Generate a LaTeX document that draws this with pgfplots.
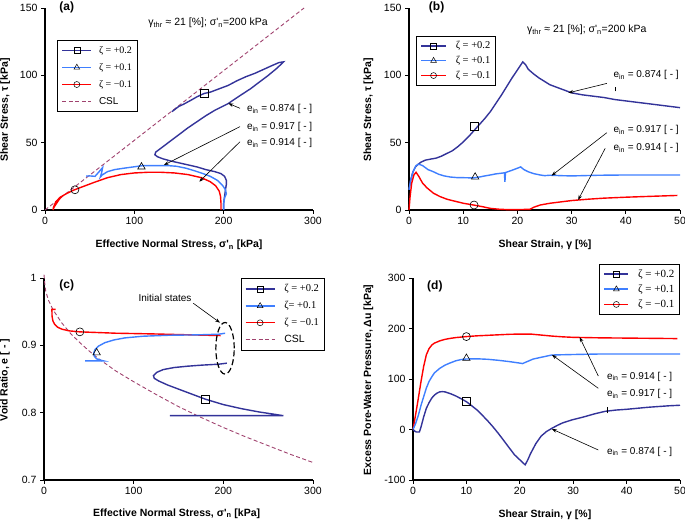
\documentclass[border=0pt]{standalone}
\usepackage{fontspec}
\setmainfont{Liberation Sans}
\newfontfamily\tnr{Liberation Serif}
\usepackage{pgfplots}
\pgfplotsset{compat=1.18}
\usetikzlibrary{arrows.meta}

\definecolor{dblue}{HTML}{333399}
\definecolor{lblue}{HTML}{3F7FFF}
\definecolor{cred}{HTML}{FF0000}
\definecolor{csl}{HTML}{A0426E}

\pgfplotsset{
  panel/.style={
    scale only axis, anchor=south west, clip=false,
    axis x line*=bottom, axis y line*=left,
    axis line style={line width=1.1pt,-},
    tick align=outside, major tick length=4pt,
    tick style={line width=0.9pt, black},
    tick label style={font=\fontsize{10.5}{12}\selectfont},
    label style={font=\bfseries\fontsize{10.5}{12}\selectfont},
    /pgf/number format/assume math mode=true,
    legend cell align=left,
  },
  curve/.style={line width=1.4pt, forget plot},
  mk/.style={only marks, black, line width=0.6pt, mark size=4pt, forget plot, mark options={solid}},
}
\tikzset{
  arr/.style={-{Stealth[length=5pt,width=3.5pt]}, line width=0.6pt, black},
  note/.style={font=\fontsize{10}{12}\selectfont, anchor=west, inner sep=0pt},
  plab/.style={font=\bfseries\fontsize{12}{14}\selectfont},
}
\newcommand{\ein}{e\textsubscript{in}}

\begin{document}
\begin{tikzpicture}
\useasboundingbox (0,0) rectangle (685pt,521pt);

% ---------------- (a) ----------------
\begin{axis}[panel, at={(45pt,311pt)}, width=268pt, height=202pt,
  xmin=0, xmax=300, ymin=0, ymax=150,
  xtick={0,100,200,300}, ytick={0,50,100,150},
  xlabel={Effective Normal Stress, σ\textquotesingle\textsubscript{n} [kPa]},
  ylabel={Shear Stress, τ [kPa]},
  xlabel style={at={(axis description cs:0.5,-0.173)}, anchor=center},
  ylabel style={at={(axis description cs:-0.149,0.495)}, anchor=center},
  legend image code/.code={\draw[mark repeat=2,mark phase=2,#1] plot coordinates {(0pt,0pt) (14.5pt,0pt) (29pt,0pt)};},
  legend style={at={(axis description cs:0.046,0.842)}, anchor=north west,
    draw=black, line width=0.6pt, font=\fontsize{10}{12}\selectfont,
    inner xsep=4pt, inner ysep=5pt, row sep=6.5pt, column sep=6pt,
    nodes={inner sep=1pt}},
]
\addlegendimage{dblue, line width=1.4pt, mark=square, mark options={solid, black, line width=0.5pt, mark size=3pt}}
\addlegendentry{{\tnr ζ = +0.2}}
\addlegendimage{lblue, line width=1.4pt, mark=triangle, mark options={solid, black, line width=0.5pt, mark size=3.3pt}}
\addlegendentry{{\tnr ζ = +0.1}}
\addlegendimage{cred, line width=1.4pt, mark=o, mark options={solid, black, line width=0.5pt, mark size=3pt}}
\addlegendentry{{\tnr ζ = −0.1}}
\addlegendimage{csl, line width=0.9pt, dash pattern=on 4pt off 2.5pt}
\addlegendentry{CSL}

\addplot[csl, line width=0.9pt, dash pattern=on 4pt off 2.5pt, forget plot] coordinates {(0,0) (290,150)};

\addplot[curve, dblue] coordinates {
(200,0) (200,5) (201,10) (202,15) (203,19) (203,22) (201,25) (197,27) (190,28.5) (180,30) (170,32) (160,33.5) (150,35) (140,36.5) (132,38) (126,39.5) (123,41) (124,43) (130,46) (140,51) (150,56) (160,61) (170,65.5) (180,70) (190,74) (205,79) (215,83.5) (230,90) (240,95) (250,100) (260,105.5) (267,110) (262,109.5) (255,107.5) (245,104.5) (235,101.5) (225,99) (215,96) (205,92.5) (195,90) (185,87.5) (178,86.5) (170,84) (162,81) (155,78.5) (150,77) (146,75) (142,73)
};
\addplot[curve, lblue] coordinates {
(200,0) (200,5) (201,9) (203,12) (202,15) (199,18) (193,22) (185,25) (177,27) (168,29) (158,31) (147,32.5) (136,33) (122,33) (110,33) (99,32) (88,31) (78,30) (70,28.5) (64,26) (62,24.5) (63.5,28) (64.5,31.5) (60,28) (56,25) (50,25.3) (46,25.2)
};
\addplot[curve, cred] coordinates {
(197,0) (197,5) (196.5,10) (195,14) (191,18) (185,21) (175,24) (160,26.3) (145,27.5) (130,28) (115,28) (100,27.5) (85,26.3) (70,24) (55,20.5) (45,18) (33,15) (25,12.5) (17,9.5) (12,6) (9.5,2) (9,0) (10,2) (13,5) (16,8) (19,10)
};
\addplot[mk, mark=square] coordinates {(178,87)};
\addplot[mk, mark=triangle, mark size=4.3pt] coordinates {(108,32)};
\addplot[mk, mark=o] coordinates {(33.5,15)};

\node[plab] at (axis cs:24.3,150.5) {(a)};
\node[font=\fontsize{10.5}{12}\selectfont] at (axis cs:182.5,138.9) {γ\textsubscript{thr} ≈ 21 [\%]; σ\textquotesingle\textsubscript{n}=200 kPa};
\node[note] at (axis cs:226,75) {\ein\ = 0.874 [ - ]};
\node[note] at (axis cs:226,61.6) {\ein\ = 0.917 [ - ]};
\node[note] at (axis cs:226,49.8) {\ein\ = 0.914 [ - ]};
\draw[arr] (axis cs:218.3,75.5) -- (axis cs:205.2,79.2);
\draw[arr] (axis cs:218.3,61.9) -- (axis cs:133.2,33.4);
\draw[arr] (axis cs:218.3,50.7) -- (axis cs:172.7,21);
\end{axis}

% ---------------- (b) ----------------
\begin{axis}[panel, at={(409pt,311pt)}, width=271pt, height=202pt,
  xmin=0, xmax=50, ymin=0, ymax=150,
  xtick={0,10,20,30,40,50}, ytick={0,50,100,150},
  xlabel={Shear Strain, γ [\%]},
  ylabel={Shear Stress, τ [kPa]},
  xlabel style={at={(axis description cs:0.502,-0.173)}, anchor=center},
  ylabel style={at={(axis description cs:-0.150,0.495)}, anchor=center},
  legend image code/.code={\draw[mark repeat=2,mark phase=2,#1] plot coordinates {(0pt,0pt) (12.5pt,0pt) (25pt,0pt)};},
  legend style={at={(axis description cs:0.026,0.861)}, anchor=north west,
    draw=black, line width=0.6pt, font=\fontsize{10.5}{12}\selectfont,
    inner xsep=4pt, inner ysep=4pt, row sep=4pt, column sep=8pt,
    nodes={inner sep=1pt}},
]
\addlegendimage{dblue, line width=1.4pt, mark=square, mark options={solid, black, line width=0.5pt, mark size=3pt}}
\addlegendentry{{\tnr ζ = +0.2}}
\addlegendimage{lblue, line width=1.4pt, mark=triangle, mark options={solid, black, line width=0.5pt, mark size=3.3pt}}
\addlegendentry{{\tnr ζ = +0.1}}
\addlegendimage{cred, line width=1.4pt, mark=o, mark options={solid, black, line width=0.5pt, mark size=3pt}}
\addlegendentry{{\tnr ζ = −0.1}}

\addplot[curve, dblue] coordinates {
(0,15) (0.3,22) (0.7,28) (1.2,32) (1.7,34) (2.2,35.5) (3,37) (4,37.8) (5,38.5) (6,40) (7,42) (8,44) (9,47) (10,50.5) (11,54.5) (12,59) (13,63.5) (14,68) (15,73) (16,79) (17,85) (18,91.5) (19,98) (20,104) (21,110) (21.5,108) (22,104.5) (23,101) (24,98) (25,95.5) (26,93) (27,91.5) (28,90) (29,88.5) (30,87) (32,85.5) (34,84.5) (36,83.5) (38,82) (40,81) (42,80) (44,79) (46,78) (48,77) (50,76)
};
\addplot[curve, lblue] coordinates {
(0,15) (0.3,22) (0.8,29) (1.3,33) (1.8,34) (2.5,33) (3.5,30) (4.5,28.4) (5.5,26.5) (6.5,25.3) (7.6,24.5) (9,24) (10,24) (11.9,23.8) (13,24.5) (14,25.3) (15,26) (16,26.8) (17,27.3) (17.6,27.6) (17.7,21) (17.8,27.8) (19,29.5) (20,31) (20.6,32) (21.2,30) (22,28.4) (23,27) (24.2,26) (25,25.5) (26,25.8) (28,25.5) (30,25.3) (35,25.8) (40,26) (45,26) (50,26)
};
\addplot[curve, cred] coordinates {
(0,0) (0.2,10) (0.5,20) (0.9,26) (1.3,28) (1.8,25) (2.5,20) (3.3,16.5) (4.5,12.5) (5.7,10) (7,8) (8.8,6.2) (10,5) (11.9,3.7) (13.5,2.5) (15,1.2) (16.5,0.6) (18,0.3) (20,0.3) (22.3,0.5) (23,2) (24.2,3.7) (26,5) (28,6) (30,7) (33,8) (36,8.8) (40,9.5) (45,10.2) (49.5,10.8)
};
\addplot[mk, mark=square] coordinates {(12,62)};
\addplot[mk, mark=triangle, mark size=4.3pt] coordinates {(12.2,24.5)};
\addplot[mk, mark=o] coordinates {(12,3.7)};

\node[plab] at (axis cs:5.1,150.5) {(b)};
\node[font=\fontsize{10.5}{12}\selectfont] at (axis cs:32.8,133.6) {γ\textsubscript{thr} ≈ 21 [\%]; σ\textquotesingle\textsubscript{n}=200 kPa};
\node[note] at (axis cs:37.7,100.2) {\ein\ = 0.874 [ - ]};
\node[note] at (axis cs:37.7,59.4) {\ein\ = 0.917 [ - ]};
\node[note] at (axis cs:37.7,45.8) {\ein\ = 0.914 [ - ]};
\draw[arr] (axis cs:36.5,94) -- (axis cs:29.4,87);
\draw[arr] (axis cs:36.5,57.4) -- (axis cs:26.3,25.5);
\draw[arr] (axis cs:36.2,45.8) -- (axis cs:31.2,7.4);
\draw[line width=0.6pt] (axis cs:38,88) -- (axis cs:38,91.5);
\end{axis}

% ---------------- (c) ----------------
\begin{axis}[panel, at={(44pt,41pt)}, width=269pt, height=202pt,
  xmin=0, xmax=300, ymin=0.7, ymax=1,
  xtick={0,100,200,300}, ytick={0.7,0.8,0.9,1},
  xlabel={Effective Normal Stress, σ\textquotesingle\textsubscript{n} [kPa]},
  ylabel={Void Ratio, e [ - ]},
  xlabel style={at={(axis description cs:0.493,-0.165)}, anchor=center},
  ylabel style={at={(axis description cs:-0.145,0.495)}, anchor=center},
  legend image code/.code={\draw[mark repeat=2,mark phase=2,#1] plot coordinates {(0pt,0pt) (14.5pt,0pt) (29pt,0pt)};},
  legend style={at={(axis description cs:0.731,0.9985)}, anchor=north west,
    draw=black, line width=0.6pt, font=\fontsize{10.5}{12}\selectfont,
    inner xsep=4pt, inner ysep=5pt, row sep=6pt, column sep=8pt,
    nodes={inner sep=1pt}},
]
\addlegendimage{dblue, line width=1.4pt, mark=square, mark options={solid, black, line width=0.5pt, mark size=3pt}}
\addlegendentry{{\tnr ζ = +0.2}}
\addlegendimage{lblue, line width=1.4pt, mark=triangle, mark options={solid, black, line width=0.5pt, mark size=3.3pt}}
\addlegendentry{{\tnr ζ= +0.1}}
\addlegendimage{cred, line width=1.4pt, mark=o, mark options={solid, black, line width=0.5pt, mark size=3pt}}
\addlegendentry{{\tnr ζ = −0.1}}
\addlegendimage{csl, line width=0.9pt, dash pattern=on 4pt off 2.5pt}
\addlegendentry{CSL}

\addplot[csl, line width=0.9pt, dash pattern=on 4pt off 2.5pt, forget plot] coordinates {
(0,1.005) (1,0.99) (2,0.980) (5,0.967) (10,0.953) (20,0.933) (30,0.917) (40,0.904) (50,0.892) (60,0.881) (80,0.862) (100,0.846) (125,0.827) (150,0.809) (175,0.793) (200,0.778) (225,0.764) (250,0.751) (275,0.738) (300,0.726)
};
\addplot[curve, cred] coordinates {
(197,0.9145) (180,0.9150) (150,0.916) (120,0.917) (100,0.9175) (80,0.918) (60,0.919) (40,0.920) (28,0.9215) (20,0.924) (15,0.927) (12,0.931) (10,0.936) (9,0.943) (8.8,0.9535) (13,0.9535)
};
\addplot[curve, lblue] coordinates {
(202,0.918) (195,0.9165) (170,0.9155) (140,0.915) (110,0.9135) (90,0.911) (78,0.908) (68,0.904) (61,0.899) (57,0.894) (55.5,0.889) (56,0.884) (58.5,0.880) (63,0.878) (66,0.877) (46,0.877)
};
\addplot[curve, dblue] coordinates {
(204,0.8735) (195,0.872) (175,0.8705) (160,0.869) (145,0.867) (133,0.864) (126,0.860) (122,0.855) (123,0.851) (128,0.847) (138,0.841) (150,0.835) (165,0.8275) (180,0.820) (200,0.812) (220,0.806) (240,0.801) (255,0.798) (267,0.7955) (140.5,0.7955)
};
\addplot[mk, mark=o] coordinates {(40,0.920)};
\addplot[mk, mark=triangle, mark size=4.3pt] coordinates {(58.7,0.889)};
\addplot[mk, mark=square] coordinates {(180,0.820)};

\draw[line width=1.2pt, dash pattern=on 6pt off 3pt] (axis cs:201.9,0.8956) ellipse [x radius=9.2pt, y radius=25.8pt];
\node[font=\fontsize{10}{12}\selectfont] at (axis cs:135,0.971) {Initial states};
\draw[arr] (axis cs:166.5,0.9625) -- (axis cs:196.3,0.9336);
\node[plab] at (axis cs:25.3,0.9896) {(c)};
\end{axis}

% ---------------- (d) ----------------
\begin{axis}[panel, at={(413pt,41pt)}, width=267pt, height=202pt,
  xmin=0, xmax=50, ymin=-100, ymax=300,
  xtick={0,10,20,30,40,50}, ytick={-100,0,100,200,300},
  xlabel={Shear Strain, γ [\%]},
  ylabel={Excess Pore-Water Pressure, Δu [kPa]},
  xlabel style={at={(axis description cs:0.494,-0.173)}, anchor=center},
  ylabel style={at={(axis description cs:-0.167,0.495)}, anchor=center},
  legend image code/.code={\draw[mark repeat=2,mark phase=2,#1] plot coordinates {(0pt,0pt) (12pt,0pt) (24pt,0pt)};},
  legend style={at={(axis description cs:0.698,1.069)}, anchor=north west,
    draw=black, line width=0.6pt, font=\fontsize{11}{12}\selectfont,
    inner xsep=4pt, inner ysep=4pt, row sep=4pt, column sep=8pt,
    nodes={inner sep=1pt}},
]
\addlegendimage{dblue, line width=1.4pt, mark=square, mark options={solid, black, line width=0.5pt, mark size=3pt}}
\addlegendentry{{\tnr ζ = +0.2}}
\addlegendimage{lblue, line width=1.4pt, mark=triangle, mark options={solid, black, line width=0.5pt, mark size=3.3pt}}
\addlegendentry{{\tnr ζ = +0.1}}
\addlegendimage{cred, line width=1.4pt, mark=o, mark options={solid, black, line width=0.5pt, mark size=3pt}}
\addlegendentry{{\tnr ζ = −0.1}}

\addplot[curve, cred] coordinates {
(0,0) (0.5,30) (1,62) (1.5,95) (2,125) (2.5,148) (3,160) (3.5,167) (4,171) (5,175.5) (6,178.5) (7,180.5) (8,182) (10,184) (12,185.5) (14,186.5) (16,187.5) (18,188.5) (20,189) (22,189) (23,188) (24,187) (26,185) (28,183.5) (30,182.5) (35,181.5) (40,181) (45,180.5) (49.5,180)
};
\addplot[curve, lblue] coordinates {
(0,0) (0.5,12) (1,28) (1.5,48) (2,65) (2.5,82) (3,95) (3.5,104) (4,112) (5,121) (6,127.5) (7,132) (8,136) (9,138.5) (10,139.6) (12,140) (14,139) (16,137) (18,134.5) (20,131.5) (20.5,130.5) (21.5,135) (22.5,139.5) (24,143) (26,147.5) (28,148) (30,148.5) (35,149.5) (40,149.5) (45,149.5) (50,149.5)
};
\addplot[curve, dblue] coordinates {
(0,0) (0.3,-3) (0.6,-5) (1.2,-5) (1.5,5) (2,25) (2.5,42) (3,53) (3.5,62) (4,68) (4.5,72) (5,74.5) (5.5,75) (6,74.5) (7,71) (8,66.5) (9,61) (10,55) (11,47) (12,38.5) (13,28) (14,17) (15,5) (16,-8) (17,-22) (18,-36) (19,-50) (20,-60) (20.5,-65) (21,-70) (21.5,-60) (22,-48) (22.5,-38) (23,-28) (24,-13) (25,-4) (26,2.3) (27,8) (28,13) (29.7,18.8) (32,25) (34,31) (36,36) (38,38.5) (40,40) (42,42) (44,44) (46,45.5) (48,47) (50,48)
};
\addplot[mk, mark=square] coordinates {(10,55)};
\addplot[mk, mark=triangle, mark size=4.3pt] coordinates {(10,141)};
\addplot[mk, mark=o] coordinates {(10,184)};

\node[plab] at (axis cs:4.1,282.8) {(d)};
\node[note] at (axis cs:36.3,104.6) {\ein\ = 0.914 [ - ]};
\node[note] at (axis cs:36.3,70.3) {\ein\ = 0.917 [ - ]};
\node[note] at (axis cs:36.3,-44) {\ein\ = 0.874 [ - ]};
\draw[arr] (axis cs:34.7,105.9) -- (axis cs:31.2,183);
\draw[arr] (axis cs:34.7,81.6) -- (axis cs:26,148);
\draw[arr] (axis cs:34.7,-40.6) -- (axis cs:26,1);
\draw[line width=0.6pt] (axis cs:36.3,32) -- (axis cs:36.3,45);
\end{axis}
\end{tikzpicture}
\end{document}
